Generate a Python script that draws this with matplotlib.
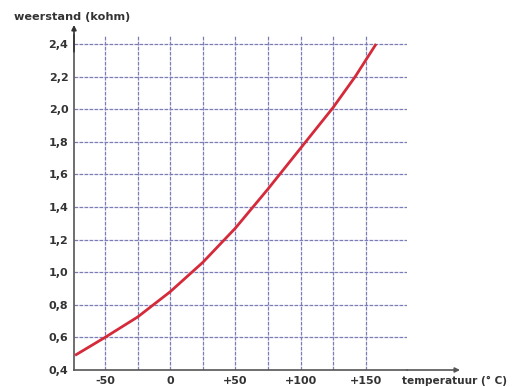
import matplotlib
matplotlib.use("Agg")
import matplotlib.pyplot as plt

# data
temp = [-73, -50, -25, 0, 25, 50, 75, 100, 125, 142, 158]
resist = [0.49, 0.60, 0.725, 0.88, 1.06, 1.27, 1.51, 1.76, 2.01, 2.20, 2.40]

x_ticks = [-50, 0, 50, 100, 150]
x_tick_labels = ["-50", "0", "+50", "+100", "+150"]
x_grid = [-50, -25, 0, 25, 50, 75, 100, 125, 150]
y_ticks = [0.4, 0.6, 0.8, 1.0, 1.2, 1.4, 1.6, 1.8, 2.0, 2.2, 2.4]
y_tick_labels = ["0,4", "0,6", "0,8", "1,0", "1,2", "1,4", "1,6", "1,8", "2,0", "2,2", "2,4"]

plt.rcParams['font.family'] = ['DejaVu Sans']

W, H = 518, 387
fig = plt.figure(figsize=(W / 100, H / 100), dpi=100)
ax = fig.add_axes([74 / W, 17 / H, 333 / W, 335 / H])
ax.set_xlim(-73.8, 181.7)
ax.set_ylim(0.4, 2.455)

gridc = '#7c7cb6'
for gx in x_grid:
    ax.axvline(gx, color=gridc, lw=0.9, ls=(0, (3, 1)), zorder=1)
for gy in y_ticks[1:]:
    ax.axhline(gy, color=gridc, lw=0.9, ls=(0, (3, 1)), zorder=1)

ax.plot(temp, resist, color='#d42a3a', lw=2.0, zorder=3,
        solid_capstyle='butt', solid_joinstyle='round')

for s in ['top', 'right']:
    ax.spines[s].set_visible(False)
for s in ['left', 'bottom']:
    ax.spines[s].set_color('#555555')
    ax.spines[s].set_linewidth(1.2)

ax.set_xticks(x_ticks)
ax.set_xticklabels(x_tick_labels)
ax.set_yticks(y_ticks)
ax.set_yticklabels(y_tick_labels)
ax.tick_params(length=0, labelsize=8, colors='#333333', pad=4)
for lab in ax.get_xticklabels() + ax.get_yticklabels():
    lab.set_fontweight('bold')

# arrows extending the axes
ax.annotate('', xy=(0, 1.03), xytext=(0, 0.95), xycoords='axes fraction',
            arrowprops=dict(arrowstyle='-|>', color='#333333', lw=1.2,
                            mutation_scale=7, shrinkA=0, shrinkB=0),
            annotation_clip=False)
ax.annotate('', xy=(386 / 333, 0), xytext=(1.0, 0), xycoords='axes fraction',
            arrowprops=dict(arrowstyle='-|>', color='#555555', lw=1.2,
                            mutation_scale=7, shrinkA=0, shrinkB=0),
            annotation_clip=False)

fig.text(14 / W, 1 - 17 / H, 'weerstand (kohm)', fontsize=8.1, fontweight='bold',
         color='#333333', ha='left', va='center')
fig.text(402 / W, 1 - 381 / H, 'temperatuur (° C)', fontsize=7.6, fontweight='bold',
         color='#333333', ha='left', va='center')

fig.savefig('out.png', dpi=100)
